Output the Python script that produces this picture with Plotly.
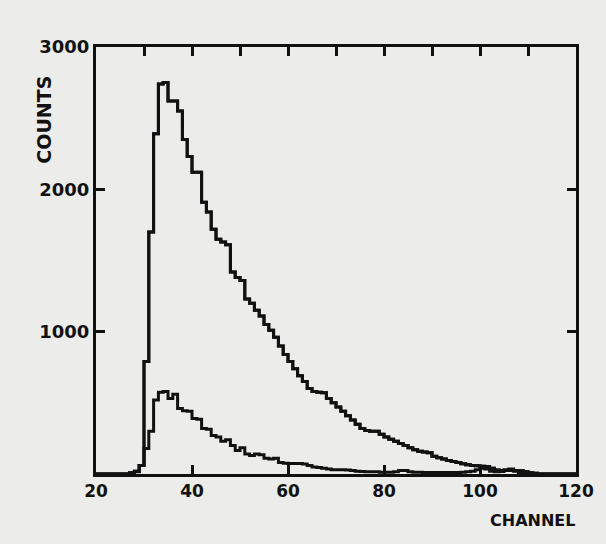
import plotly.graph_objects as go

# channel left edges 20..119 (bin width 1 channel)
channels = list(range(20, 120))

upper_counts = [
    0, 0, 0, 0, 0, 0, 0, 8, 20, 60,            # 20-29
    790, 1700, 2390, 2740, 2750, 2620, 2620, 2550, 2350, 2230,  # 30-39
    2120, 2120, 1910, 1840, 1720, 1650, 1630, 1610, 1420, 1380,  # 40-49
    1360, 1230, 1200, 1150, 1110, 1050, 1010, 960, 900, 840,     # 50-59
    790, 740, 690, 650, 600, 580, 575, 570, 530, 500,            # 60-69
    470, 440, 410, 380, 350, 320, 305, 300, 300, 280,            # 70-79
    260, 245, 230, 215, 200, 185, 170, 160, 155, 150,            # 80-89
    125, 115, 105, 95, 88, 80, 72, 65, 60, 58,                   # 90-99
    55, 52, 40, 28, 25, 25, 25, 25, 22, 15,                      # 100-109
    8, 5, 0, 0, 0, 0, 0, 0, 0, 0,                                # 110-119
]

lower_counts = [
    0, 0, 0, 0, 0, 0, 0, 5, 15, 60,              # 20-29
    180, 300, 520, 575, 580, 530, 560, 460, 445, 440,  # 30-39
    390, 385, 320, 315, 270, 260, 230, 240, 200, 165,  # 40-49
    185, 140, 130, 140, 135, 110, 105, 110, 80, 75,    # 50-59
    74, 74, 74, 70, 60, 50, 45, 40, 35, 30,            # 60-69
    30, 30, 28, 25, 20, 18, 15, 15, 15, 12,            # 70-79
    12, 12, 15, 25, 25, 15, 12, 12, 10, 10,            # 80-89
    10, 10, 10, 10, 10, 10, 12, 15, 20, 30,            # 90-99
    40, 35, 20, 15, 18, 30, 35, 20, 10, 5,             # 100-109
    3, 0, 0, 0, 0, 0, 0, 0, 0, 0,                      # 110-119
]

x_tick_vals = [20, 40, 60, 80, 100, 120]
x_tick_text = ["20", "40", "60", "80", "100", "120"]
top_tick_vals = [30, 40, 50, 60, 70, 80, 90, 100, 110]
y_tick_vals = [1000, 2000, 3000]
y_tick_text = ["1000", "2000", "3000"]
right_tick_vals = [1000, 2000]

INK = "#111111"
BG = "#ececea"
FONT = "DejaVu Sans"

def step_xy(edges, vals):
    xs = list(edges) + [edges[-1] + 1]
    ys = list(vals) + [vals[-1]]
    return xs, ys

fig = go.Figure()
for vals in (upper_counts, lower_counts):
    xs, ys = step_xy(channels, vals)
    fig.add_trace(go.Scatter(x=xs, y=ys, mode="lines", line_shape="hv",
                             line=dict(color=INK, width=3), showlegend=False,
                             hoverinfo="skip"))

# same upper histogram attached to the top/right tick axes (drawn identically)
xs, ys = step_xy(channels, upper_counts)
fig.add_trace(go.Scatter(x=xs, y=ys, xaxis="x2", yaxis="y2", mode="lines",
                         line_shape="hv", line=dict(color=INK, width=3),
                         showlegend=False, hoverinfo="skip"))

tick_common = dict(ticks="inside", ticklen=9, tickwidth=3, tickcolor=INK,
                   showgrid=False, zeroline=False)

fig.update_layout(
    width=606, height=544,
    margin=dict(l=96, r=24, t=47, b=70),
    paper_bgcolor=BG, plot_bgcolor=BG,
    font=dict(family=FONT, color=INK),
    xaxis=dict(range=[20, 120], showline=True, linecolor=INK, linewidth=3,
               mirror=True, tickvals=x_tick_vals, ticktext=x_tick_text,
               tickfont=dict(size=17, family=FONT, weight="bold", color=INK),
               **tick_common),
    xaxis2=dict(range=[20, 120], overlaying="x", side="top", anchor="y2",
                showline=False, tickvals=top_tick_vals, showticklabels=False,
                **tick_common),
    yaxis=dict(range=[0, 3000], showline=True, linecolor=INK, linewidth=3,
               mirror=True, tickvals=y_tick_vals, ticktext=y_tick_text,
               tickfont=dict(size=18, family=FONT, weight="bold", color=INK),
               **tick_common),
    yaxis2=dict(range=[0, 3000], overlaying="y", side="right", anchor="x2",
                showline=False, tickvals=right_tick_vals, showticklabels=False,
                **tick_common),
    annotations=[
        dict(text="CHANNEL", xref="paper", yref="paper", x=0.909, y=-0.108,
             showarrow=False, xanchor="center", yanchor="middle",
             font=dict(size=16, family=FONT, weight="bold", color=INK)),
        dict(text="COUNTS", xref="paper", yref="paper", x=-0.109, y=0.829,
             showarrow=False, textangle=-90, xanchor="center", yanchor="middle",
             font=dict(size=19, family=FONT, weight="bold", color=INK)),
    ],
)

fig.write_html("out.html")
